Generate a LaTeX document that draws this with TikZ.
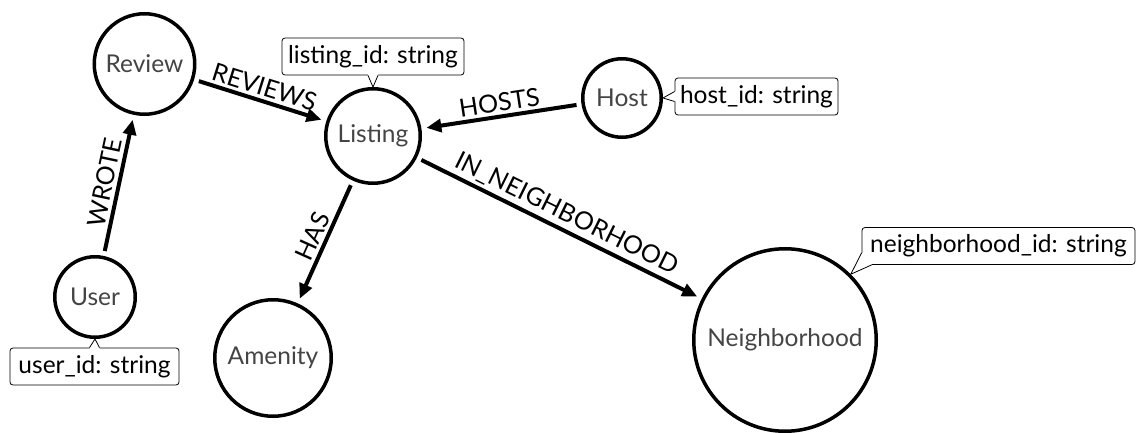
\documentclass[tikz,border=0pt]{standalone}
\usepackage{fontspec}
\setmainfont{Lato}
\usetikzlibrary{arrows.meta,calc}
\definecolor{nodetext}{HTML}{444444}
\begin{document}
\begin{tikzpicture}[x=1pt,y=-1pt,
  ent/.style={circle, draw=black, line width=3.5pt, text=nodetext, font=\fontsize{24.5}{28}\selectfont, inner sep=0pt},
  prop/.style={draw=black, line width=0.8pt, rounded corners=3pt, fill=white, text=black, font=\fontsize{24.5}{28}\selectfont, inner sep=0pt, minimum height=37pt},
  ptr/.style={draw=black, line width=0.8pt, line join=miter},
  rel/.style={draw=black, line width=4pt, -{Triangle[length=15pt,width=13pt]}, shorten >=5pt, shorten <=5pt},
  rlab/.style={font=\fontsize{25}{28}\selectfont, text=black, sloped, above=3pt, midway, inner sep=0pt}
]
\useasboundingbox (0,0) rectangle (1136,433);

% entities
\node[ent, minimum size=100.5pt] (review)  at (144.5,64) {Review};
\node[ent, minimum size=94.5pt]  (listing) at (373,136)  {Listing};
\node[ent, minimum size=78.5pt]  (host)    at (622,98)   {Host};
\node[ent, minimum size=80.5pt]  (user)    at (95,297)   {User};
\node[ent, minimum size=116.5pt] (amenity) at (273,358)  {Amenity};
\node[ent, minimum size=182.5pt] (neigh)   at (785,340)  {Neighborhood};

% relationships
\draw[rel] (user) -- node[rlab]{WROTE} (review);
\draw[rel] (review) -- node[rlab]{REVIEWS} (listing);
\draw[rel] (host) -- node[rlab]{HOSTS} (listing);
\draw[rel] (listing) -- node[rlab]{HAS} (amenity);
\draw[rel] (listing) -- node[rlab]{IN\_NEIGHBORHOOD} (neigh);

% property boxes
\node[prop, minimum width=182pt] (plisting) at (373,56.5)  {listing\_id: string};
\node[prop, minimum width=163pt] (phost)    at (756.5,96.5) {host\_id: string};
\node[prop, minimum width=169pt] (puser)    at (94.5,366.5) {user\_id: string};
\node[prop, minimum width=273pt] (pneigh)   at (998.5,246)  {neighborhood\_id: string};

% pointers
\fill[white] ($(plisting.south)+(-5,-2)$) -- ($(plisting.south)+(-5,0)$) -- (listing.north) -- ($(plisting.south)+(5,0)$) -- ($(plisting.south)+(5,-2)$) -- cycle;
\draw[ptr] ($(plisting.south)+(-5,0)$) -- (listing.north) -- ($(plisting.south)+(5,0)$);

\fill[white] ($(puser.north)+(-5,2)$) -- ($(puser.north)+(-5,0)$) -- (user.south) -- ($(puser.north)+(5,0)$) -- ($(puser.north)+(5,2)$) -- cycle;
\draw[ptr] ($(puser.north)+(-5,0)$) -- (user.south) -- ($(puser.north)+(5,0)$);

\fill[white] ($(phost.west)+(2,-5)$) -- ($(phost.west)+(0,-5)$) -- (host.east) -- ($(phost.west)+(0,5)$) -- ($(phost.west)+(2,5)$) -- cycle;
\draw[ptr] ($(phost.west)+(0,-5)$) -- (host.east) -- ($(phost.west)+(0,5)$);

\fill[white] ($(pneigh.south west)+(2,-12)$) -- ($(pneigh.south west)+(0,-12)$) -- (neigh.45) -- ($(pneigh.south west)+(10,0)$) -- ($(pneigh.south west)+(10,-2)$) -- cycle;
\draw[ptr] ($(pneigh.south west)+(0,-12)$) -- (neigh.45) -- ($(pneigh.south west)+(10,0)$);
\end{tikzpicture}
\end{document}
